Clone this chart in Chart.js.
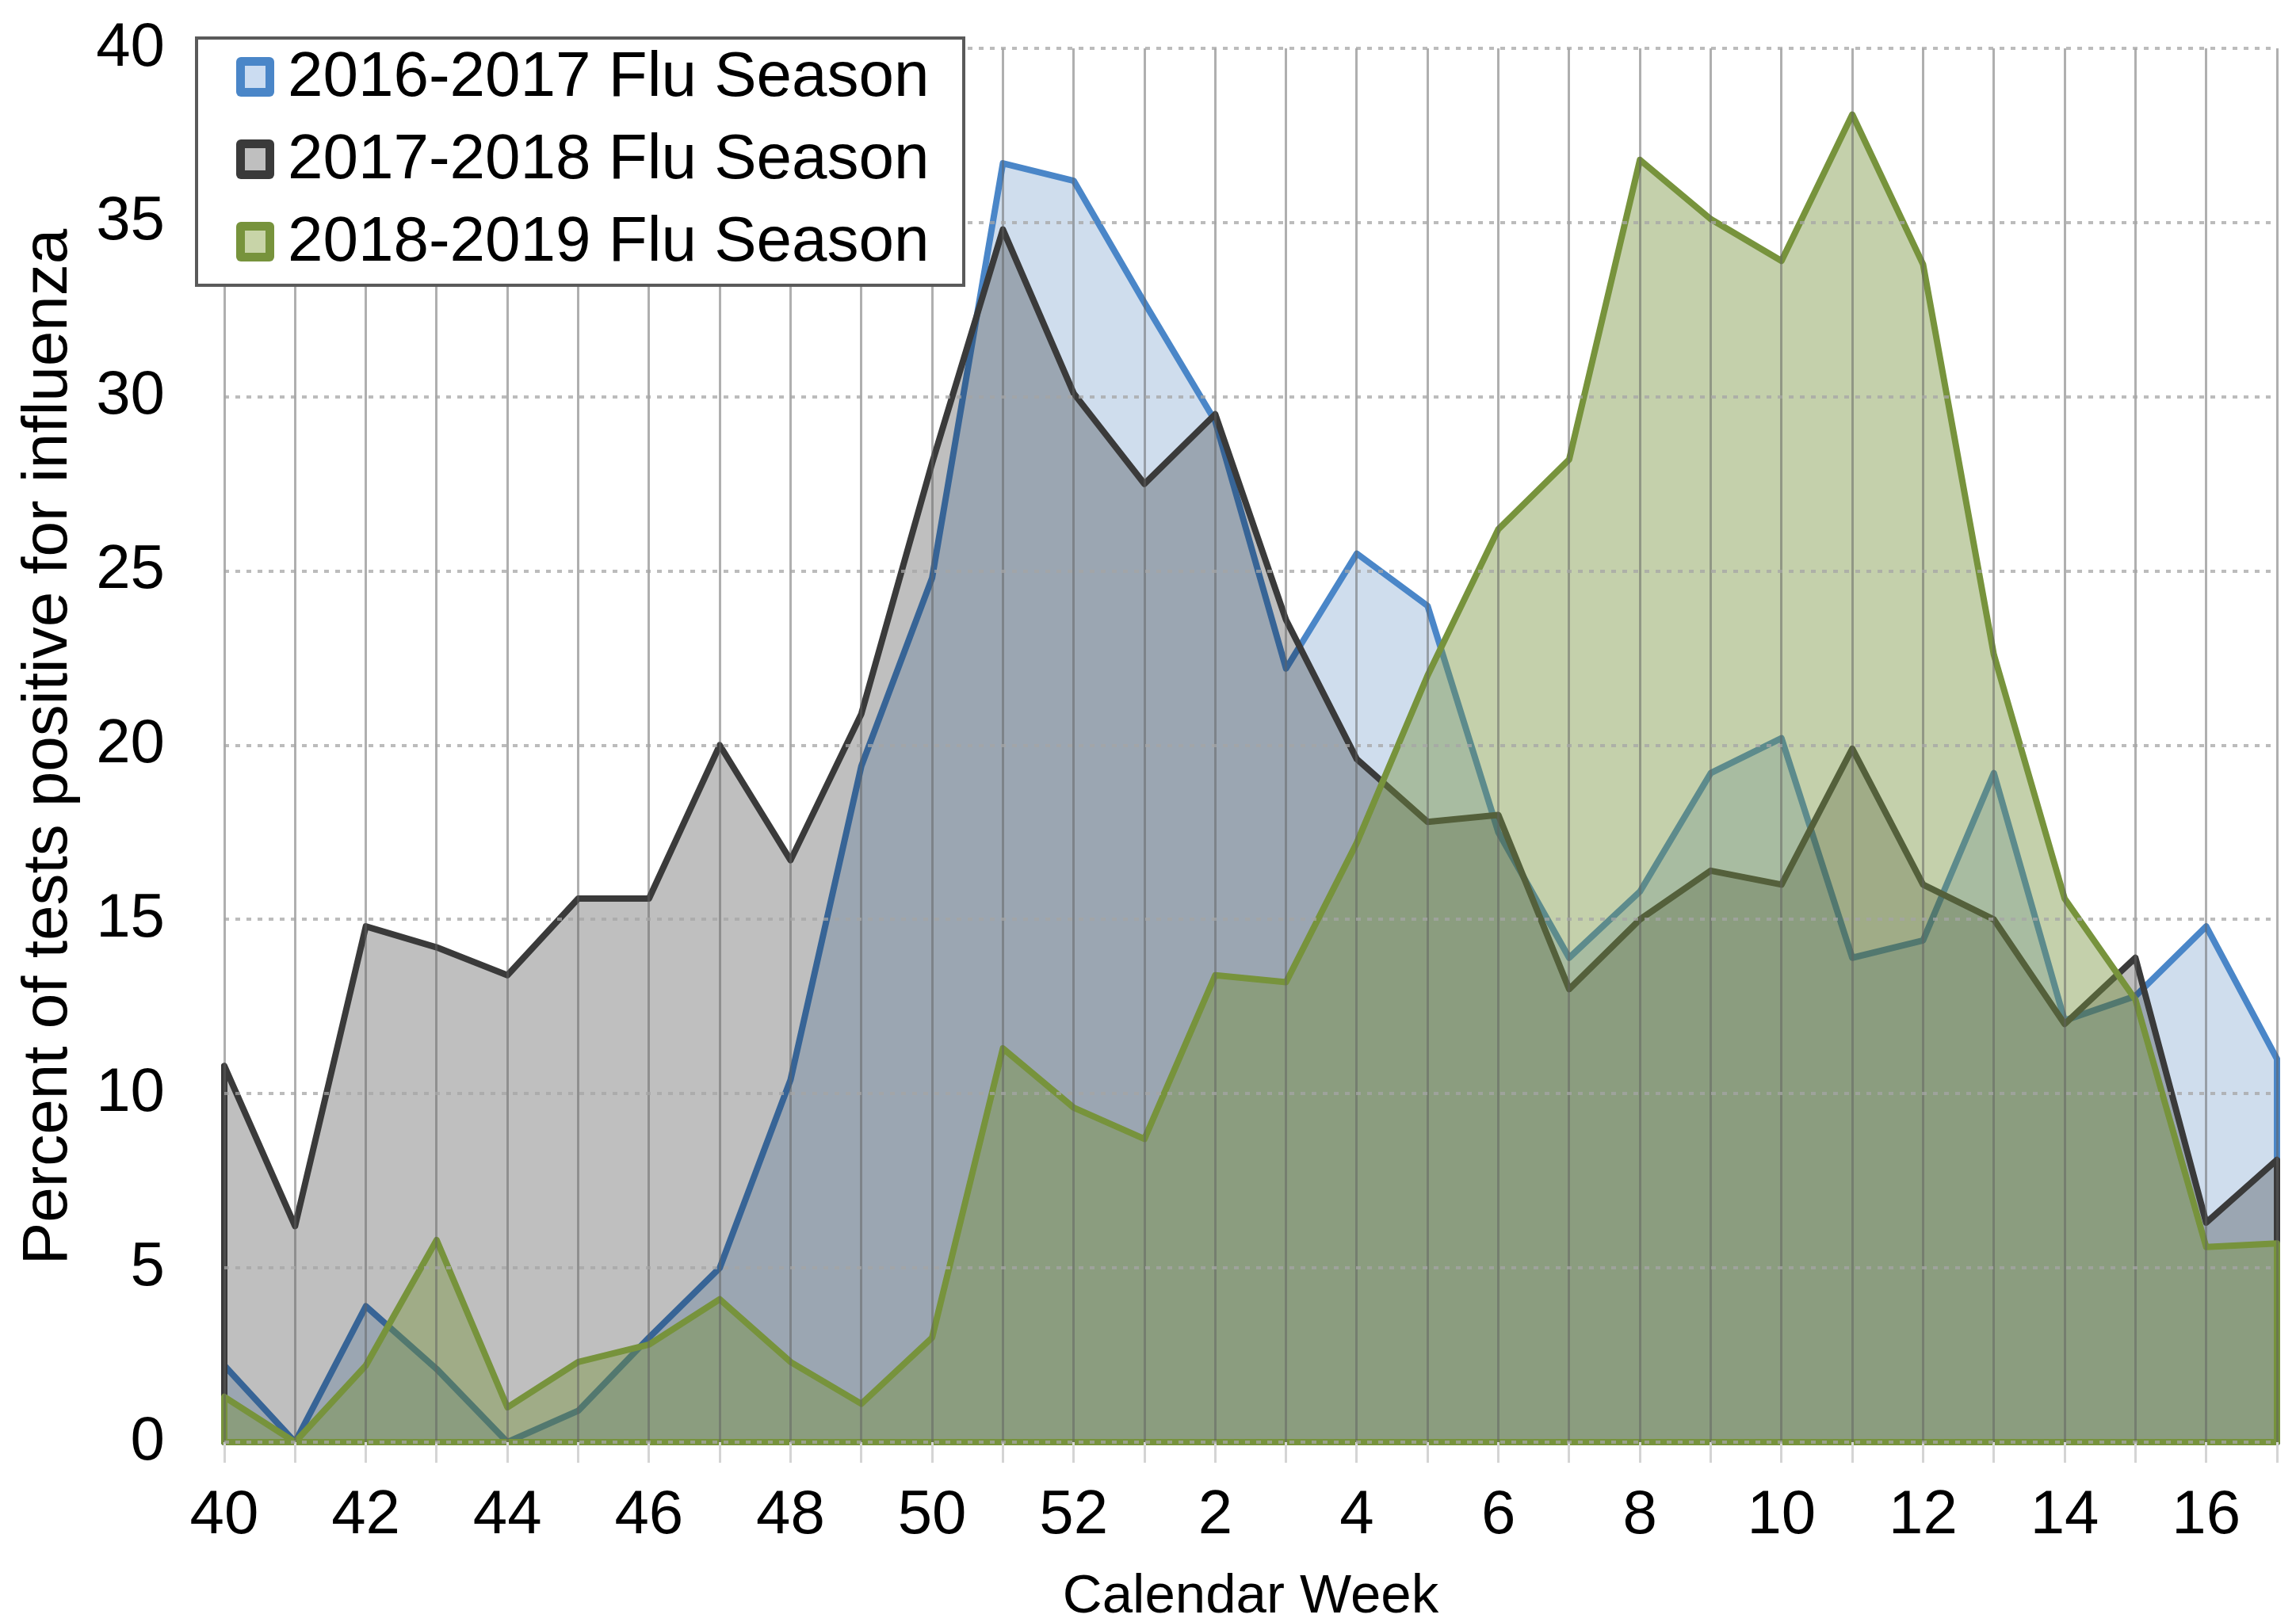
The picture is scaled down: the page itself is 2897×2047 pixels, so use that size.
<!DOCTYPE html>
<html>
<head>
<meta charset="utf-8">
<script src="https://cdn.jsdelivr.net/npm/chart.js@4.4.1/dist/chart.umd.min.js"></script>
<style>
  html, body { margin: 0; padding: 0; background: #ffffff; }
  #wrap { width: 2897px; height: 2047px; position: relative; }
  canvas { display: block; }
</style>
</head>
<body>
<div id="wrap"><canvas id="c" width="2897" height="2047"></canvas></div>
<script>
// ---- Data ----
const weeks = ['40','41','42','43','44','45','46','47','48','49','50','51','52',
               '1','2','3','4','5','6','7','8','9','10','11','12','13','14','15','16','17'];

const season2016_2017 = [2.2, 0, 3.9, 2.1, 0, 0.9, 3.0, 5.0, 10.4, 19.4, 24.8, 36.7, 36.2,
                         32.7, 29.3, 22.2, 25.5, 24.0, 17.5, 13.9, 15.8, 19.2, 20.2, 13.9, 14.4, 19.2, 12.1, 12.8, 14.8, 11.0];
const season2017_2018 = [10.8, 6.2, 14.8, 14.2, 13.4, 15.6, 15.6, 20.0, 16.7, 20.9, 28.1, 34.8, 30.1,
                         27.5, 29.5, 23.6, 19.6, 17.8, 18.0, 13.0, 15.0, 16.4, 16.0, 19.9, 16.0, 15.0, 12.0, 13.9, 6.3, 8.1];
const season2018_2019 = [1.3, 0, 2.2, 5.8, 1.0, 2.3, 2.8, 4.1, 2.3, 1.1, 3.0, 11.3, 9.6,
                         8.7, 13.4, 13.2, 17.2, 22.0, 26.2, 28.2, 36.8, 35.1, 33.9, 38.1, 33.8, 22.6, 15.6, 12.7, 5.6, 5.7];

const seriesNames = ['2016-2017 Flu Season', '2017-2018 Flu Season', '2018-2019 Flu Season'];
const yTicks = { min: 0, max: 40, step: 5 };
const xAxisTitle = 'Calendar Week';
const yAxisTitle = 'Percent of tests positive for influenza';

const FONT = "'Liberation Sans', Arial, Helvetica, sans-serif";
Chart.defaults.font.family = FONT;
Chart.defaults.color = '#000000';

// Close each area like the reference (vertical edges + baseline outline)
const outlinePlugin = {
  id: 'areaOutline',
  afterDatasetDraw(chart, args) {
    const meta = args.meta;
    const ds = chart.data.datasets[args.index];
    const pts = meta.data;
    if (!pts.length) return;
    const yBase = chart.scales.y.getPixelForValue(0);
    const first = pts[0], last = pts[pts.length - 1];
    const ctx = chart.ctx;
    ctx.save();
    ctx.strokeStyle = ds.borderColor;
    ctx.lineWidth = ds.borderWidth;
    ctx.lineJoin = 'round';
    ctx.beginPath();
    ctx.moveTo(first.x, first.y);
    ctx.lineTo(first.x, yBase);
    ctx.lineTo(last.x, yBase);
    ctx.lineTo(last.x, last.y);
    ctx.stroke();
    ctx.restore();
  }
};

// Legend box overlaid on the plot + axis titles
const decorPlugin = {
  id: 'decor',
  afterDraw(chart) {
    const ctx = chart.ctx;
    const area = chart.chartArea;
    ctx.save();
    // legend box
    const bx = 248, by = 48, bw = 968, bh = 312;
    ctx.fillStyle = '#ffffff';
    ctx.fillRect(bx, by, bw, bh);
    ctx.strokeStyle = '#5a5a5a';
    ctx.lineWidth = 4;
    ctx.strokeRect(bx, by, bw, bh);
    ctx.font = '80px ' + FONT;
    ctx.textBaseline = 'middle';
    ctx.textAlign = 'left';
    chart.data.datasets.forEach((ds, i) => {
      const cy = 97 + i * 104;
      const sx = 298, sw = 48, sh = 50, sy = cy - sh / 2;
      ctx.fillStyle = ds.borderColor;
      ctx.beginPath();
      ctx.roundRect(sx, sy, sw, sh, 6);
      ctx.fill();
      ctx.fillStyle = ds.legendFill;
      ctx.fillRect(sx + 11, sy + 11, sw - 22, sh - 22);
      ctx.fillStyle = '#000000';
      ctx.fillText(ds.label, 363, cy + 2);
    });
    // x title
    ctx.font = '69px ' + FONT;
    ctx.textAlign = 'center';
    ctx.textBaseline = 'middle';
    ctx.fillStyle = '#000000';
    ctx.fillText(xAxisTitle, (area.left + area.right) / 2, 2016);
    // y title
    ctx.font = '80px ' + FONT;
    ctx.translate(62, (area.top + area.bottom) / 2 + 2);
    ctx.rotate(-Math.PI / 2);
    ctx.fillText(yAxisTitle, 0, 0);
    ctx.restore();
  }
};

const chart = new Chart(document.getElementById('c'), {
  type: 'line',
  data: {
    labels: weeks,
    datasets: [
      {
        label: seriesNames[0],
        data: season2016_2017,
        borderColor: '#4a86c8',
        backgroundColor: 'rgba(79,129,189,0.27)',
        legendFill: '#cbdcf1',
        borderWidth: 8,
        fill: 'origin',
        order: 3
      },
      {
        label: seriesNames[1],
        data: season2017_2018,
        borderColor: '#3a3a3a',
        backgroundColor: 'rgba(0,0,0,0.25)',
        legendFill: '#bfbfbf',
        borderWidth: 8,
        fill: 'origin',
        order: 2
      },
      {
        label: seriesNames[2],
        data: season2018_2019,
        borderColor: '#77933c',
        backgroundColor: 'rgba(119,147,60,0.43)',
        legendFill: '#c8d4a8',
        borderWidth: 8,
        fill: 'origin',
        order: 1
      }
    ]
  },
  options: {
    responsive: false,
    devicePixelRatio: 1,
    animation: false,
    layout: { padding: { top: 61, right: 24, left: 0, bottom: 0 } },
    elements: {
      line: { tension: 0, borderJoinStyle: 'round', borderCapStyle: 'round' },
      point: { radius: 0, hoverRadius: 0 }
    },
    plugins: {
      legend: { display: false },
      tooltip: { enabled: false },
      title: { display: false }
    },
    scales: {
      x: {
        type: 'category',
        offset: false,
        border: { display: false },
        grid: {
          z: 1,
          color: 'rgba(95,95,95,0.5)',
          lineWidth: 3,
          drawTicks: true,
          tickLength: 26,
          tickColor: '#d4d4d4',
          tickWidth: 3
        },
        ticks: {
          autoSkip: false,
          maxRotation: 0,
          minRotation: 0,
          padding: 21,
          font: { size: 78 },
          color: '#000000',
          callback: function (value, index) {
            return index % 2 === 0 ? weeks[index] : '';
          }
        },
        afterFit(scale) { scale.height = 227; scale.paddingLeft = 0; scale.paddingRight = 0; }
      },
      y: {
        min: yTicks.min,
        max: yTicks.max,
        border: { display: false, dash: [6, 8] },
        grid: {
          z: 1,
          color: 'rgba(165,165,165,0.75)',
          lineWidth: 4,
          drawTicks: false
        },
        ticks: {
          stepSize: yTicks.step,
          padding: 75,
          font: { size: 78 },
          color: '#000000'
        },
        afterFit(scale) { scale.width = 283; scale.paddingTop = 0; scale.paddingBottom = 0; }
      }
    }
  },
  plugins: [outlinePlugin, decorPlugin]
});
</script>
</body>
</html>
